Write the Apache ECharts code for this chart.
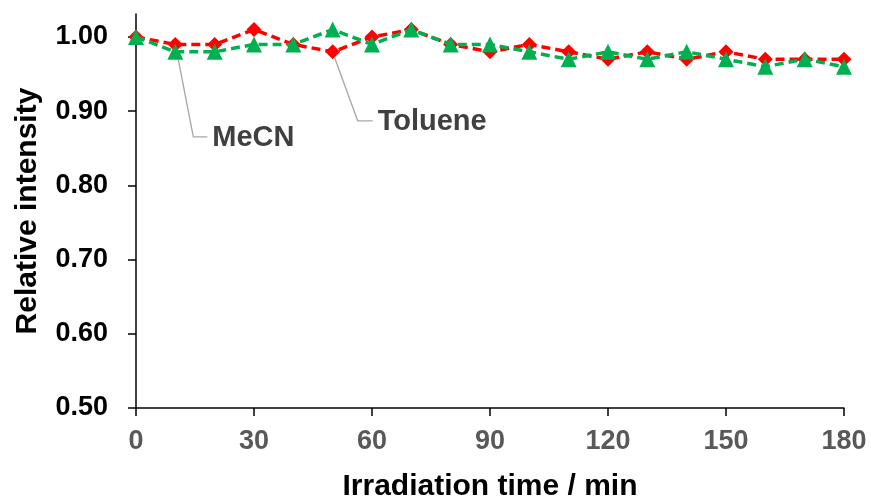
<!DOCTYPE html>
<html>
<head>
<meta charset="utf-8">
<script src="https://cdn.jsdelivr.net/npm/echarts@6/dist/echarts.min.js"></script>
<style>html,body{margin:0;padding:0;background:#fff}#c{width:871px;height:500px}</style>
</head>
<body>
<div id="c"></div>
<script>
const times = [0,10,20,30,40,50,60,70,80,90,100,110,120,130,140,150,160,170,180];
const toluene = [1.00,0.99,0.99,1.01,0.99,0.98,1.00,1.01,0.99,0.98,0.99,0.98,0.97,0.98,0.97,0.98,0.97,0.97,0.97];
const mecn    = [1.00,0.98,0.98,0.99,0.99,1.01,0.99,1.01,0.99,0.99,0.98,0.97,0.98,0.97,0.98,0.97,0.96,0.97,0.96];
const yTicks = [0.5,0.6,0.7,0.8,0.9,1.0];
const xTicks = [0,30,60,90,120,150,180];

const FONT = '"Liberation Sans", Arial, sans-serif';
const chart = echarts.init(document.getElementById('c'), null, {renderer:'canvas'});
const pairs = arr => arr.map((v,i)=>[times[i], v]);

chart.setOption({
  animation: false,
  grid: {left:136, right:27, top:14, bottom:92, containLabel:false, outerBoundsMode:'none'},
  xAxis: {
    type:'value', min:0, max:180, interval:30,
    name:'Irradiation time / min', nameLocation:'middle', nameGap:64,
    nameTextStyle:{fontFamily:FONT, fontWeight:'bold', fontSize:30, color:'#000'},
    axisLine:{lineStyle:{color:'#000', width:1.5}},
    axisTick:{show:true, inside:false, length:8, lineStyle:{color:'#000', width:1.5}},
    axisLabel:{fontFamily:FONT, fontWeight:'bold', fontSize:27, color:'#595959', margin:20},
    splitLine:{show:false}
  },
  yAxis: {
    type:'value', min:0.5, max:1.031, interval:0.1,
    name:'Relative intensity', nameLocation:'middle', nameGap:93, nameRotate:90,
    nameTextStyle:{fontFamily:FONT, fontWeight:'bold', fontSize:30, color:'#000'},
    axisLine:{show:true, lineStyle:{color:'#000', width:1.5}},
    axisTick:{show:true, length:8, customValues:yTicks, lineStyle:{color:'#000', width:1.5}},
    axisLabel:{fontFamily:FONT, fontWeight:'bold', fontSize:27, color:'#000', margin:28,
      customValues:yTicks, formatter:v=>v.toFixed(2)},
    splitLine:{show:false}
  },
  series: [
    {name:'Toluene', type:'line', data:pairs(toluene), symbol:'diamond', symbolSize:15,
     lineStyle:{color:'#ff0000', width:3.5, type:[9,5]}, itemStyle:{color:'#ff0000'}, z:2},
    {name:'MeCN', type:'line', data:pairs(mecn), symbol:'triangle', symbolSize:16,
     lineStyle:{color:'#00b050', width:3.5, type:[9,5]}, itemStyle:{color:'#00b050'}, z:3}
  ]
});

function annot(x, y, text, d) {
  const p = chart.convertToPixel({gridIndex:0}, [x, y]);
  return [
    {type:'polyline', shape:{points:[[p[0]+d[0],p[1]+d[1]],[p[0]+d[2],p[1]+d[3]],[p[0]+d[4],p[1]+d[3]]]},
     style:{stroke:'#a6a6a6', lineWidth:1.3, fill:null}, z:1},
    {type:'text', x:p[0]+d[4]+5, y:p[1]+d[3]+1, style:{text:text, fontFamily:FONT, fontWeight:'bold', fontSize:29,
     fill:'#404040', verticalAlign:'middle', align:'left'}, z:10}
  ];
}
chart.setOption({graphic: [
  ...annot(times[1], mecn[1], 'MeCN', [3,8,18,85,32]),
  ...annot(times[5], toluene[5], 'Toluene', [2,6,25,69,40])
]});
</script>
</body>
</html>
